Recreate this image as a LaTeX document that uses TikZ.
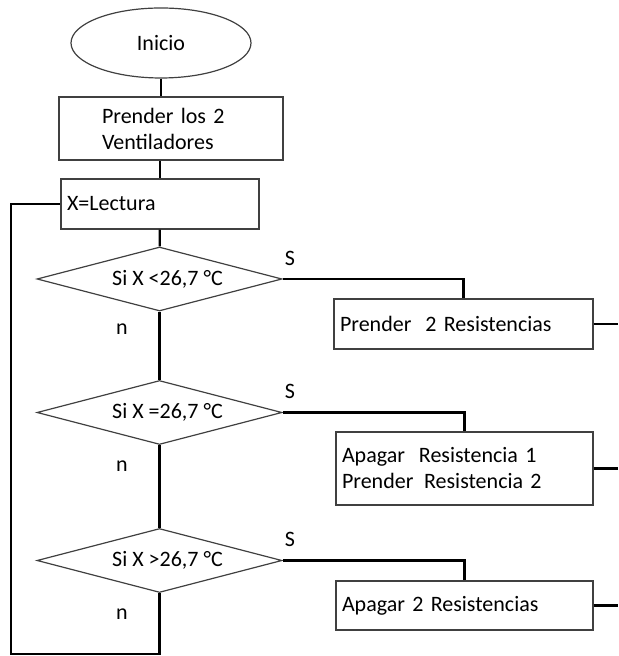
\documentclass[tikz,border=0pt]{standalone}
\usepackage{fontspec}
\setmainfont{Carlito}
\usetikzlibrary{shapes.geometric}
\tikzstyle{startstop} = [ellipse, draw=black!75, line width=0.6pt, minimum width=90pt, minimum height=35pt, inner sep=0pt]
\tikzstyle{process} = [rectangle, draw=black!75, line width=0.6pt, inner xsep=3pt, inner ysep=0pt, align=left]
\tikzstyle{decision} = [diamond, aspect=3.8, draw=black!75, line width=0.6pt, minimum width=122.5pt, minimum height=32pt, inner sep=0pt]
\tikzstyle{line} = [line width=1.1pt]

\begin{document}
\begin{tikzpicture}[x=0.5pt, y=-0.5pt, every node/.style={font=\fontsize{11}{13}\selectfont}]
    \useasboundingbox (0,0) rectangle (618,656);

    \node (inicio) [startstop] at (161,43) {Inicio};
    \node (ventiladores) [process, text width=106pt, minimum height=31.5pt] at (171,128.5) {\hspace*{18.5pt}Prender los 2\\\hspace*{18.5pt}Ventiladores};
    \node (lectura) [process, text width=93pt, minimum height=25pt] at (160,204) {X=Lectura};

    \node (menor) [decision] at (159.5,279) {\hspace*{8pt}Si X <26,7 °C};
    \node (igual) [decision] at (159.5,412.5) {\hspace*{8pt}Si X =26,7 °C};
    \node (mayor) [decision] at (159.5,560.5) {\hspace*{8pt}Si X >26,7 °C};

    \node (prender) [process, text width=123.5pt, minimum height=25pt] at (463.5,324) {Prender\hspace{0.3em} 2 Resistencias};
    \node (cambiar) [process, text width=122.5pt, minimum height=36.5pt] at (464.5,468.5) {Apagar\hspace{0.3em} Resistencia 1\\Prender\hspace{0.15em} Resistencia 2};
    \node (apagar) [process, text width=122.5pt, minimum height=24.5pt] at (464.5,605.5) {Apagar 2 Resistencias};

    \coordinate (edge) at (618,0);
    \coordinate (bottom) at (159.5,654);
    \coordinate (corner) at (11,654);

    \draw [line] (inicio.south) -- (inicio.south |- ventiladores.north);
    \draw [line] (lectura.north |- ventiladores.south) -- (lectura.north);
    \draw [line] (lectura) -- (menor);

    \draw [line] (menor) -- node [near start, left=12pt] {n} (igual);
    \draw [line] (igual) -- node [near start, left=12pt] {n} (mayor);
    \draw [line] (mayor) -- node [pos=0.34, left=12pt] {n} (bottom) -- (corner) |- (lectura.west);

    \draw [line] (menor.east) -| node [pos=0.02, above=3pt] {S} (prender.north);
    \draw [line] (igual.east) -| node [pos=0.02, above=3pt] {S} (cambiar.north);
    \draw [line] (mayor.east) -| node [pos=0.02, above=3pt] {S} (apagar.north);

    \draw [line] (prender.east) -- (prender.east -| edge);
    \draw [line] (cambiar.east) -- (cambiar.east -| edge);
    \draw [line] (apagar.east) -- (apagar.east -| edge);
\end{tikzpicture}
\end{document}
